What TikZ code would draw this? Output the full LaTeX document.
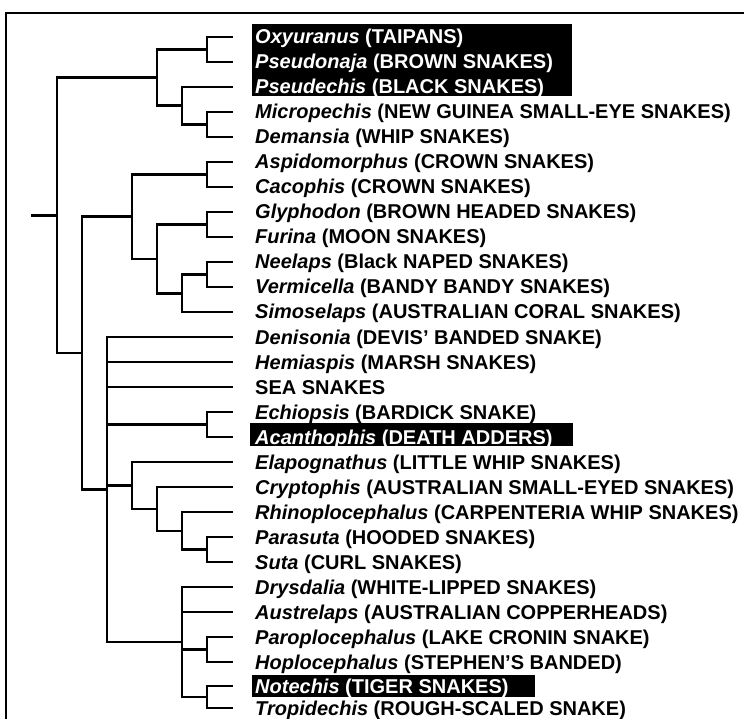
\documentclass[tikz,border=0pt]{standalone}
\usepackage{fontspec}
\setmainfont{Liberation Sans}
\tikzset{
	branch/.style={line width=2.6pt},
	taxon/.style={anchor=west, inner xsep=22pt, inner ysep=0pt, text height=14pt, text depth=0pt,
		font=\fontsize{20}{23}\selectfont\bfseries},
	marked/.style={taxon, text=white},
}
\begin{document}
\begin{tikzpicture}[x=1pt,y=-1pt]
		\useasboundingbox (0,0) rectangle (744,719);
		\draw[line width=1.8pt] (6,719) -- (6,13) -- (744,13);

		% black boxes behind the marked genera
		\fill (252,24) rectangle (572,96);
		\fill (250,423) rectangle (573,446);
		\fill (252,675) rectangle (535,697);

		% genera
		\node[marked] (oxyuranus) at (233,37) {\textit{Oxyuranus} (TAIPANS)};
		\node[marked] (pseudonaja) at (233,62) {\textit{Pseudonaja} (BROWN SNAKES)};
		\node[marked] (pseudechis) at (233,87) {\textit{Pseudechis} (BLACK SNAKES)};
		\node[taxon] (micropechis) at (233,112) {\textit{Micropechis} (NEW GUINEA SMALL-EYE SNAKES)};
		\node[taxon] (demansia) at (233,137) {\textit{Demansia} (WHIP SNAKES)};
		\node[taxon] (aspidomorphus) at (233,162) {\textit{Aspidomorphus} (CROWN SNAKES)};
		\node[taxon] (cacophis) at (233,187) {\textit{Cacophis} (CROWN SNAKES)};
		\node[taxon] (glyphodon) at (233,212) {\textit{Glyphodon} (BROWN HEADED SNAKES)};
		\node[taxon] (furina) at (233,237) {\textit{Furina} (MOON SNAKES)};
		\node[taxon] (neelaps) at (233,262) {\textit{Neelaps} (Black NAPED SNAKES)};
		\node[taxon] (vermicella) at (233,287) {\textit{Vermicella} (BANDY BANDY SNAKES)};
		\node[taxon] (simoselaps) at (233,312) {\textit{Simoselaps} (AUSTRALIAN CORAL SNAKES)};
		\node[taxon] (denisonia) at (233,337) {\textit{Denisonia} (DEVIS’ BANDED SNAKE)};
		\node[taxon] (hemiaspis) at (233,362) {\textit{Hemiaspis} (MARSH SNAKES)};
		\node[taxon] (sea) at (233,387) {SEA SNAKES};
		\node[taxon] (echiopsis) at (233,412) {\textit{Echiopsis} (BARDICK SNAKE)};
		\node[marked] (acanthophis) at (233,437) {\textit{Acanthophis} (DEATH ADDERS)};
		\node[taxon] (elapognathus) at (233,462) {\textit{Elapognathus} (LITTLE WHIP SNAKES)};
		\node[taxon] (cryptophis) at (233,487) {\textit{Cryptophis} (AUSTRALIAN SMALL-EYED SNAKES)};
		\node[taxon] (rhinoplocephalus) at (233,512) {\textit{Rhinoplocephalus} (CARPENTERIA WHIP SNAKES)};
		\node[taxon] (parasuta) at (233,537) {\textit{Parasuta} (HOODED SNAKES)};
		\node[taxon] (suta) at (233,562) {\textit{Suta} (CURL SNAKES)};
		\node[taxon] (drysdalia) at (233,587) {\textit{Drysdalia} (WHITE-LIPPED SNAKES)};
		\node[taxon] (austrelaps) at (233,612) {\textit{Austrelaps} (AUSTRALIAN COPPERHEADS)};
		\node[taxon] (paroplocephalus) at (233,637) {\textit{Paroplocephalus} (LAKE CRONIN SNAKE)};
		\node[taxon] (hoplocephalus) at (233,662) {\textit{Hoplocephalus} (STEPHEN’S BANDED)};
		\node[marked] (notechis) at (233,686) {\textit{Notechis} (TIGER SNAKES)};
		\node[taxon] (tropidechis) at (233,708) {\textit{Tropidechis} (ROUGH-SCALED SNAKE)};

		% splits
		\coordinate (stem) at (31,215.5);
		\coordinate (root) at (57,215.5);
		\coordinate (k1) at (207,49.5);
		\coordinate (k2) at (207,124.5);
		\coordinate (k3) at (182,105.8);
		\coordinate (k4) at (157,77.6);
		\coordinate (k5) at (207,174.5);
		\coordinate (k6) at (207,224.5);
		\coordinate (k7) at (207,274.5);
		\coordinate (k8) at (182,293.3);
		\coordinate (k9) at (157,258.9);
		\coordinate (k10) at (132,216.7);
		\coordinate (k11) at (207,424.5);
		\coordinate (k12) at (207,549.5);
		\coordinate (k13) at (182,530.8);
		\coordinate (k14) at (157,508.9);
		\coordinate (k15) at (132,485.4);
		\coordinate (k16) at (207,649.5);
		\coordinate (k17) at (207,697);
		\coordinate (k18) at (182,642);
		\coordinate (k19) at (107,489.5);
		\coordinate (k20) at (82,353);

		\draw[branch] (stem) -- (root);
		\draw[branch] (root) |- (k4);
		\draw[branch] (root) |- (k20);

		\draw[branch] (k4) |- (k1);
		\draw[branch] (k4) |- (k3);
		\draw[branch] (k1) |- (oxyuranus);
		\draw[branch] (k1) |- (pseudonaja);
		\draw[branch] (k3) |- (pseudechis);
		\draw[branch] (k3) |- (k2);
		\draw[branch] (k2) |- (micropechis);
		\draw[branch] (k2) |- (demansia);

		\draw[branch] (k20) |- (k10);
		\draw[branch] (k20) |- (k19);
		\draw[branch] (k10) |- (k5);
		\draw[branch] (k10) |- (k9);
		\draw[branch] (k5) |- (aspidomorphus);
		\draw[branch] (k5) |- (cacophis);
		\draw[branch] (k9) |- (k6);
		\draw[branch] (k9) |- (k8);
		\draw[branch] (k6) |- (glyphodon);
		\draw[branch] (k6) |- (furina);
		\draw[branch] (k8) |- (k7);
		\draw[branch] (k8) |- (simoselaps);
		\draw[branch] (k7) |- (neelaps);
		\draw[branch] (k7) |- (vermicella);

		\draw[branch] (k19) |- (denisonia);
		\draw[branch] (k19) |- (hemiaspis);
		\draw[branch] (k19) |- (sea);
		\draw[branch] (k19) |- (k11);
		\draw[branch] (k19) |- (k15);
		\draw[branch] (k19) |- (k18);
		\draw[branch] (k11) |- (echiopsis);
		\draw[branch] (k11) |- (acanthophis);
		\draw[branch] (k15) |- (elapognathus);
		\draw[branch] (k15) |- (k14);
		\draw[branch] (k14) |- (cryptophis);
		\draw[branch] (k14) |- (k13);
		\draw[branch] (k13) |- (rhinoplocephalus);
		\draw[branch] (k13) |- (k12);
		\draw[branch] (k12) |- (parasuta);
		\draw[branch] (k12) |- (suta);

		\draw[branch] (k18) |- (drysdalia);
		\draw[branch] (k18) |- (austrelaps);
		\draw[branch] (k18) |- (k16);
		\draw[branch] (k18) |- (k17);
		\draw[branch] (k16) |- (paroplocephalus);
		\draw[branch] (k16) |- (hoplocephalus);
		\draw[branch] (k17) |- (notechis);
		\draw[branch] (k17) |- (tropidechis);

	\end{tikzpicture}
\end{document}
